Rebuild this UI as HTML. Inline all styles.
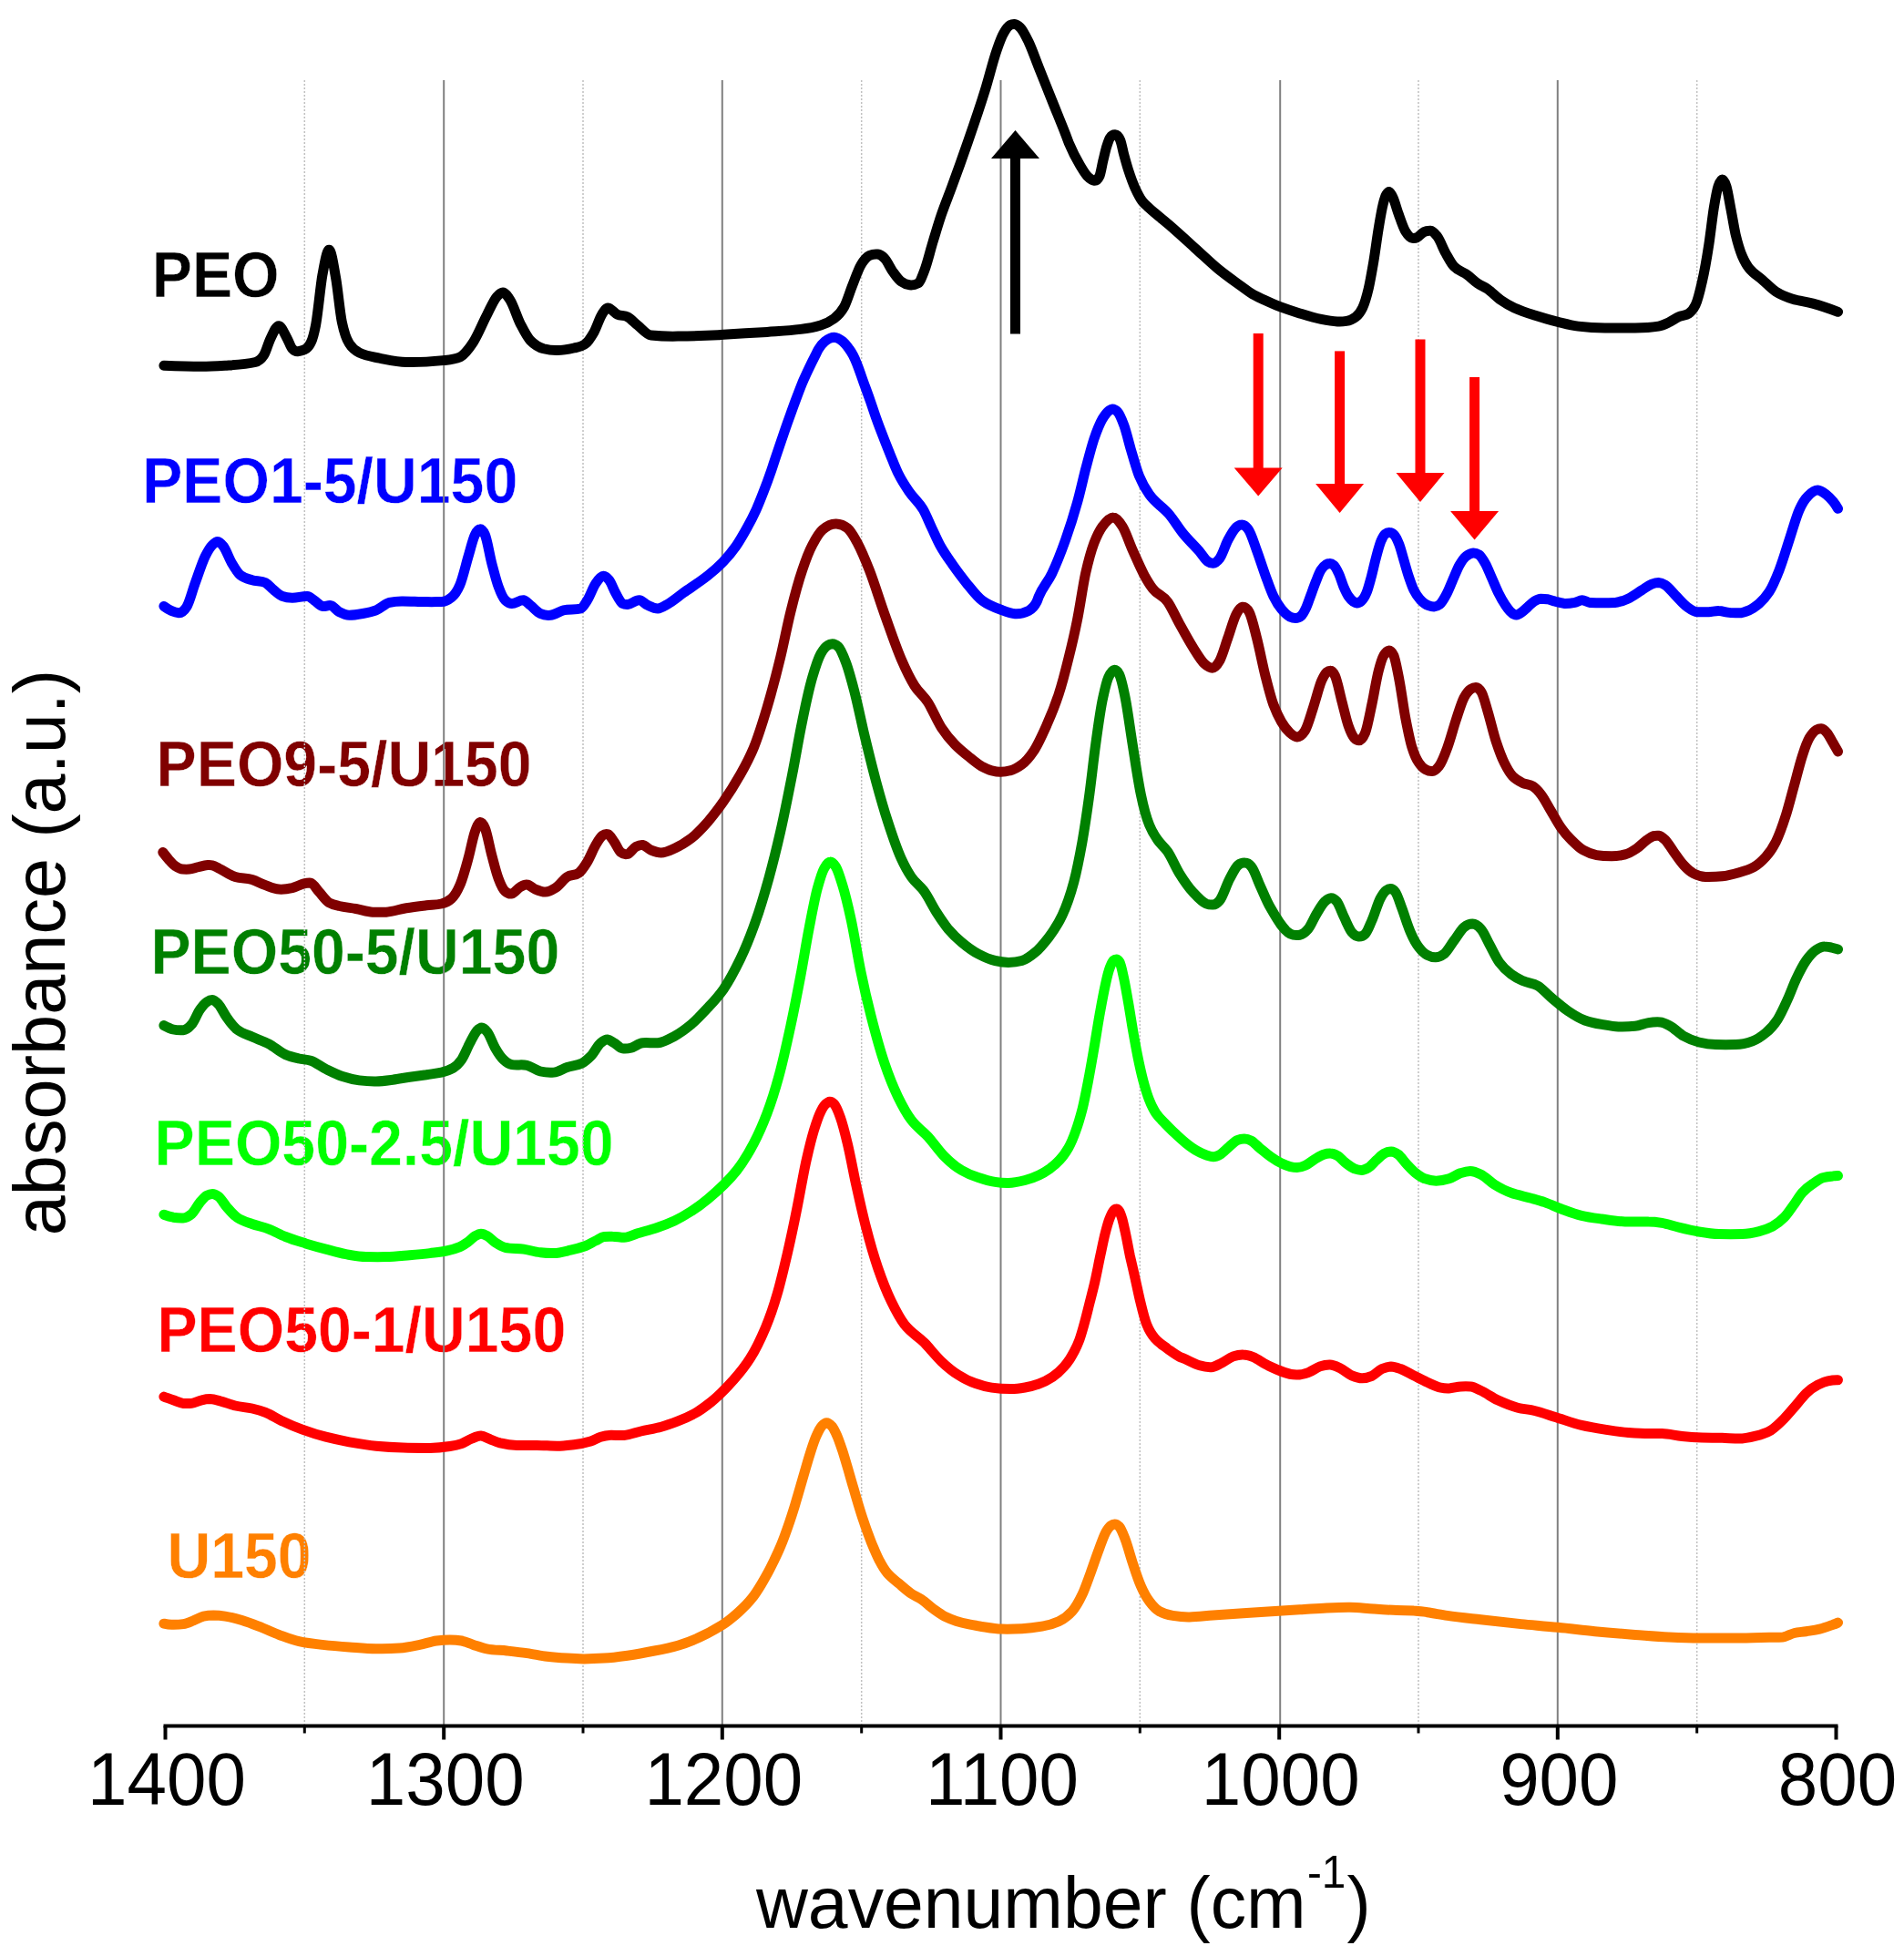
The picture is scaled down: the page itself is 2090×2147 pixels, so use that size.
<!DOCTYPE html>
<html><head><meta charset="utf-8"><title>FTIR spectra</title>
<style>html,body{margin:0;padding:0;background:#fff}svg{display:block}</style></head>
<body>
<svg width="2090" height="2147" viewBox="0 0 2090 2147">
<rect width="2090" height="2147" fill="#fff"/>
<g id="labels"><text transform="translate(166.8,325.9) scale(0.951,1)" font-size="69.6" font-weight="bold" fill="#000000" stroke="#fff" stroke-width="0.4" font-family="'Liberation Sans', sans-serif">PEO</text><text transform="translate(156.2,552.3) scale(0.951,1)" font-size="69.6" font-weight="bold" fill="#0000ff" stroke="#fff" stroke-width="0.4" font-family="'Liberation Sans', sans-serif">PEO1-5/U150</text><text transform="translate(171.6,863.3) scale(0.951,1)" font-size="69.6" font-weight="bold" fill="#800000" stroke="#fff" stroke-width="0.4" font-family="'Liberation Sans', sans-serif">PEO9-5/U150</text><text transform="translate(165.4,1069.3) scale(0.951,1)" font-size="69.6" font-weight="bold" fill="#008000" stroke="#fff" stroke-width="0.4" font-family="'Liberation Sans', sans-serif">PEO50-5/U150</text><text transform="translate(169.6,1278.8) scale(0.951,1)" font-size="69.6" font-weight="bold" fill="#00ff00" stroke="#fff" stroke-width="0.4" font-family="'Liberation Sans', sans-serif">PEO50-2.5/U150</text><text transform="translate(172.4,1484.0) scale(0.951,1)" font-size="69.6" font-weight="bold" fill="#ff0000" stroke="#fff" stroke-width="0.4" font-family="'Liberation Sans', sans-serif">PEO50-1/U150</text><text transform="translate(183.4,1732.3) scale(0.951,1)" font-size="69.6" font-weight="bold" fill="#ff8000" stroke="#fff" stroke-width="0.4" font-family="'Liberation Sans', sans-serif">U150</text></g>
<g id="grid"><line x1="487.2" y1="88" x2="487.2" y2="1894.5" stroke="#808080" stroke-width="2"/><line x1="792.8" y1="88" x2="792.8" y2="1894.5" stroke="#808080" stroke-width="2"/><line x1="1098.5" y1="88" x2="1098.5" y2="1894.5" stroke="#808080" stroke-width="2"/><line x1="1405.2" y1="88" x2="1405.2" y2="1894.5" stroke="#808080" stroke-width="2"/><line x1="1709.8" y1="88" x2="1709.8" y2="1894.5" stroke="#808080" stroke-width="2"/><line x1="334.3" y1="88" x2="334.3" y2="1894.5" stroke="#c0c0c0" stroke-width="1.5" stroke-dasharray="2 2"/><line x1="640.0" y1="88" x2="640.0" y2="1894.5" stroke="#c0c0c0" stroke-width="1.5" stroke-dasharray="2 2"/><line x1="945.7" y1="88" x2="945.7" y2="1894.5" stroke="#c0c0c0" stroke-width="1.5" stroke-dasharray="2 2"/><line x1="1251.3" y1="88" x2="1251.3" y2="1894.5" stroke="#c0c0c0" stroke-width="1.5" stroke-dasharray="2 2"/><line x1="1557.0" y1="88" x2="1557.0" y2="1894.5" stroke="#c0c0c0" stroke-width="1.5" stroke-dasharray="2 2"/><line x1="1862.7" y1="88" x2="1862.7" y2="1894.5" stroke="#c0c0c0" stroke-width="1.5" stroke-dasharray="2 2"/></g>
<g id="curves"><path d="M179.9 1782.2C182.7 1782.8 185.5 1783.3 188.3 1783.3C192.6 1783.4 196.9 1783.3 201.2 1782.6C204.9 1782 208.6 1780.3 212.3 1778.9C215.9 1777.5 219.6 1775 223.3 1774.1C227 1773.3 230.7 1773 234.3 1773C238.6 1773.1 242.9 1773.5 247.2 1774.1C253.3 1775 259.5 1776.7 265.6 1778.5C271.7 1780.4 277.9 1782.8 284 1785.2C291.4 1788 298.7 1791.6 306.1 1794.4C313.5 1797.1 320.8 1800.1 328.2 1801.7C336.8 1803.6 345.4 1804.5 353.9 1805.4C363.8 1806.5 373.6 1807.3 383.4 1808C393.2 1808.7 403 1809.7 412.8 1809.8C421.4 1810 430 1809.8 438.6 1809.1C446 1808.5 453.3 1806.9 460.7 1805.4C466.8 1804.2 472.9 1801.9 479.1 1801C484 1800.3 488.9 1799.9 493.8 1799.9C498.1 1799.9 502.4 1800.2 506.7 1801C511 1801.8 515.3 1804 519.6 1805.4C524.5 1807 529.4 1808.9 534.3 1809.8C541.6 1811.2 549 1811.2 556.4 1812C563.7 1812.8 571.1 1813.6 578.4 1814.6C585.8 1815.6 593.2 1817.4 600.5 1818.3C607.9 1819.2 615.2 1819.7 622.6 1820.1C628.7 1820.5 634.9 1820.8 641 1820.9C648.4 1820.9 655.7 1820.6 663.1 1820.1C671.7 1819.6 680.3 1818.4 688.9 1817.2C698.7 1815.8 708.5 1814 718.3 1812C726.9 1810.4 735.5 1808.7 744.1 1806.2C760.3 1801.4 776.5 1794 792.8 1783.7C798.7 1780 804.5 1775.1 810.4 1769.8C815.5 1765.3 820.5 1760.6 825.5 1754.2C828.9 1750 832.3 1744.6 835.6 1739.1C838 1735.2 840.3 1731.1 842.7 1726.7C845 1722.5 847.2 1718 849.5 1713.3C851.4 1709.3 853.4 1705.2 855.3 1700.8C857.2 1696.3 859.2 1691.5 861.1 1686.3C863 1681.2 865 1675.7 866.9 1670C868.8 1664.2 870.8 1658.1 872.7 1651.8C874.6 1645.5 876.6 1638.8 878.5 1632.1C880.4 1625.5 882.4 1618.5 884.3 1612C886.2 1605.4 888.2 1598.7 890.1 1592.8C892 1586.9 893.9 1581.1 895.9 1576.6C897.8 1572.2 899.7 1567.9 901.7 1565.7C903.6 1563.5 905.5 1561.8 907.5 1561.8C909.4 1561.8 911.3 1563.5 913.3 1565.7C915.2 1567.9 917.1 1572.2 919.1 1576.6C921 1581.1 922.9 1586.9 924.9 1592.8C926.8 1598.7 928.7 1605.4 930.7 1612C932.6 1618.5 934.5 1625.5 936.5 1632.1C938.4 1638.8 940.3 1645.5 942.3 1651.8C944.2 1658.1 946.1 1664.2 948.1 1670C950 1675.7 951.9 1681.2 953.9 1686.3C955.8 1691.5 957.7 1696.3 959.7 1700.8C961.6 1705.2 963.5 1709.7 965.5 1713.3C968.2 1718.5 971 1723.1 973.8 1726.5C978.2 1731.7 982.5 1734.6 986.9 1738.3C991.1 1741.9 995.3 1745.7 999.5 1748.7C1003.7 1751.6 1007.9 1753.1 1012.1 1756C1016.3 1758.9 1020.5 1763 1024.7 1766.1C1028.9 1769.1 1033.1 1772.2 1037.3 1774.4C1041.5 1776.5 1045.7 1778.1 1049.9 1779.4C1054.1 1780.7 1058.3 1781.8 1062.5 1782.7C1066.7 1783.6 1070.9 1784.3 1075.1 1785C1083.3 1786.2 1091.5 1787.9 1099.6 1788.1C1107 1788.3 1114.4 1788.1 1121.7 1787.7C1129.1 1787.4 1136.4 1786.5 1143.8 1785.2C1149.9 1784.1 1156.1 1782.5 1162.2 1779.7C1167.1 1777.4 1172 1774.1 1176.9 1768.6C1180.6 1764.5 1184.3 1758 1188 1750.2C1191 1743.7 1194.1 1734.6 1197.2 1726.3C1200.2 1718 1203.3 1708.6 1206.4 1700.5C1208.8 1694 1211.3 1686.5 1213.7 1682.1C1215.6 1678.8 1217.4 1676.1 1219.2 1674.8C1220.7 1673.7 1222.2 1673 1223.7 1672.9C1225.3 1672.9 1226.8 1673.8 1228.4 1675.5C1230.7 1677.8 1232.9 1683.7 1235.1 1689.5C1237.8 1696.5 1240.5 1707.2 1243.2 1715.2C1246.2 1724.4 1249.3 1734.1 1252.4 1741C1255.4 1747.9 1258.5 1753.5 1261.6 1757.6C1265.2 1762.5 1268.9 1766.5 1272.6 1768.6C1277.5 1771.4 1282.4 1772.6 1287.3 1773.4C1293.5 1774.4 1299.6 1775 1305.7 1774.9C1314.3 1774.7 1322.9 1773.6 1331.5 1773C1343.8 1772.2 1356 1771.3 1368.3 1770.5C1387.8 1769.2 1407.3 1768 1426.8 1766.8C1436.6 1766.2 1446.4 1765.4 1456.2 1764.9C1464.8 1764.5 1473.4 1764.1 1482 1764.2C1490.6 1764.3 1499.2 1765.5 1507.8 1766C1516.4 1766.6 1524.9 1767.2 1533.5 1767.5C1539.7 1767.8 1545.8 1767.5 1551.9 1767.9C1556.8 1768.1 1561.7 1769 1566.7 1769.7C1574 1770.8 1581.4 1772.3 1588.7 1773.4C1601 1775.2 1613.3 1776.4 1625.5 1777.8C1640.3 1779.5 1655 1781.1 1669.7 1782.6C1683.2 1783.9 1696.7 1784.9 1710.2 1786.3C1723.7 1787.6 1737.2 1789.4 1750.7 1790.7C1765.4 1792.1 1780.1 1793.3 1794.8 1794.4C1807.1 1795.3 1819.4 1796.4 1831.6 1797C1842.7 1797.5 1853.7 1798 1864.8 1798.1C1878.3 1798.1 1891.8 1798.1 1905.2 1798.1C1917.5 1798 1929.8 1797.6 1942.1 1797.3C1947 1797.2 1951.9 1797.2 1956.8 1797C1961.1 1796.7 1965.4 1793.5 1969.7 1792.5C1973.9 1791.6 1978.2 1791.4 1982.5 1790.7C1987.4 1789.9 1992.3 1789.3 1997.3 1788.1C2002.2 1787 2007.1 1785.1 2012 1783.3C2013.8 1782.7 2015.7 1781.9 2017.5 1781.1" fill="none" stroke="#ff8000" stroke-width="11" stroke-linecap="round" stroke-linejoin="round"/><path d="M179.9 1533.1C183.3 1534.3 186.7 1535.6 190.2 1536.8C193.8 1538 197.5 1540.1 201.2 1540.4C204.3 1540.7 207.3 1540.7 210.4 1540.4C214.1 1540.1 217.8 1537.5 221.5 1536.8C224.5 1536.1 227.6 1535.6 230.7 1535.6C234.3 1535.7 238 1536.9 241.7 1537.9C247.2 1539.2 252.7 1541.7 258.3 1543C264.4 1544.5 270.5 1544.6 276.7 1546C281.6 1547.1 286.5 1548.4 291.4 1550.4C297.5 1552.8 303.6 1557.1 309.8 1559.9C317.1 1563.4 324.5 1566.5 331.9 1569.1C340.4 1572.2 349 1575 357.6 1577.2C366.2 1579.4 374.8 1581.2 383.4 1582.8C393.2 1584.5 403 1586.2 412.8 1587.2C422.6 1588.1 432.5 1588.7 442.3 1589C452.1 1589.4 461.9 1589.4 471.7 1589.4C479.1 1589.3 486.4 1588.6 493.8 1587.5C498.1 1586.9 502.4 1586.1 506.7 1584.6C510.4 1583.3 514 1580.5 517.7 1579.1C521.2 1577.7 524.6 1575.9 528 1576.1C531.3 1576.3 534.6 1578.6 538 1579.8C541.6 1581.2 545.3 1582.9 549 1583.9C555.1 1585.4 561.3 1586.4 567.4 1586.4C574.8 1586.5 582.1 1586.4 589.5 1586.4C596.8 1586.5 604.2 1587.1 611.6 1587.2C617.7 1587.2 623.8 1586.4 630 1585.7C636.1 1585 642.2 1583.9 648.4 1582C652.1 1580.9 655.7 1578.3 659.4 1577.2C662.5 1576.3 665.5 1575.5 668.6 1575.4C674.1 1575.2 679.7 1575.8 685.2 1575.4C691.3 1575 697.4 1572.4 703.6 1571C710.9 1569.3 718.3 1568.2 725.7 1566.2C731.8 1564.5 737.9 1562.3 744.1 1559.9C750.2 1557.5 756.3 1554.9 762.5 1551.5C768.6 1548 774.7 1543.6 780.9 1538.6C789 1532 797.1 1523.8 805.2 1514.7C811.3 1507.8 817.5 1500.5 823.6 1490.7C829.1 1482 834.6 1470.8 840.2 1457.6C844.5 1447.4 848.8 1435.4 853 1420.8C856.7 1408.3 860.4 1392.5 864.1 1376.7C867.8 1360.8 871.5 1343.3 875.1 1325.1C878.2 1310 881.3 1291.3 884.3 1277.3C887.4 1263.3 890.5 1250.5 893.5 1240.5C896 1232.5 898.4 1225.1 900.9 1220.2C902.7 1216.6 904.6 1213.5 906.4 1211.8C907.9 1210.4 909.4 1209.3 910.8 1209.2C912.4 1209.1 914 1210.1 915.6 1211.8C917.8 1214.1 920 1219.8 922.2 1225.8C924.9 1233.1 927.6 1243.9 930.3 1255.2C933.4 1268 936.5 1285.4 939.5 1299.4C943.2 1316.2 946.9 1333 950.6 1347.2C954.9 1363.8 959.2 1378.8 963.5 1391.4C968.4 1405.7 973.3 1418 978.2 1428.2C983.1 1438.3 988 1447.6 992.9 1453.9C1000.3 1463.4 1007.6 1466.6 1015 1474.2C1021.1 1480.5 1027.3 1488.7 1033.4 1494.4C1039.5 1500.2 1045.7 1505.3 1051.8 1509.1C1057.9 1513 1064.1 1516.2 1070.2 1518.3C1076.3 1520.5 1082.5 1522.3 1088.6 1523.1C1096 1524.2 1103.3 1524.7 1110.7 1524.6C1115.5 1524.6 1120.3 1523.8 1125.1 1523C1130.2 1522.2 1135.2 1520.8 1140.3 1519C1145.3 1517.2 1150.3 1514.8 1155.4 1511.4C1159.6 1508.6 1163.8 1504.8 1168 1500.1C1170.1 1497.7 1172.2 1494.9 1174.3 1491.8C1176 1489.2 1177.6 1486.4 1179.3 1483.2C1181.2 1479.6 1183 1475.6 1184.9 1470.6C1186.9 1465.1 1188.9 1457.8 1190.9 1450.4C1192.5 1444.6 1194.1 1437.9 1195.7 1431.5C1197.8 1423.2 1199.9 1415.6 1202 1406.3C1203.9 1397.8 1205.9 1387.2 1207.8 1378.2C1209.7 1369.5 1211.5 1360.1 1213.4 1352.9C1214.9 1347.1 1216.4 1341.7 1217.9 1337.8C1219.3 1334.1 1220.8 1330.6 1222.2 1329C1223.2 1327.8 1224.2 1327 1225.2 1327C1226.3 1326.9 1227.4 1327.7 1228.5 1329.2C1229.6 1330.7 1230.7 1334.2 1231.8 1337.8C1232.9 1341.8 1234.1 1347.5 1235.3 1352.9C1237 1360.7 1238.7 1370.3 1240.3 1378.2C1242.3 1387.2 1244.2 1394.8 1246.1 1403.4C1248 1411.6 1249.8 1421 1251.7 1428.6C1254 1438.2 1256.4 1447.9 1258.7 1453.8C1261.7 1461.2 1264.6 1465.5 1267.6 1468.9C1272.2 1474.3 1276.8 1476.9 1281.4 1480.3C1286.5 1483.9 1291.5 1487.9 1296.6 1490.1C1297.2 1490.3 1297.8 1490.5 1298.4 1490.7C1304.5 1493.1 1310.6 1497.1 1316.8 1498.8C1321.1 1500.1 1325.4 1500.9 1329.7 1500.7C1333.3 1500.5 1337 1498 1340.7 1496.3C1345 1494.2 1349.3 1490.4 1353.6 1488.9C1357.3 1487.7 1360.9 1487 1364.6 1487.1C1368.3 1487.1 1372 1488.3 1375.7 1489.6C1380.6 1491.5 1385.5 1495.8 1390.4 1498.1C1401.3 1503.3 1412.2 1508.8 1423.1 1509.1C1427.4 1509.3 1431.7 1508.1 1436 1506.6C1440.3 1505.1 1444.6 1501.4 1448.9 1499.9C1452.6 1498.7 1456.2 1498 1459.9 1498.1C1463.6 1498.2 1467.3 1500.1 1471 1501.8C1475.3 1503.8 1479.6 1508.1 1483.8 1509.9C1487.5 1511.4 1491.2 1512.8 1494.9 1512.8C1498.6 1512.9 1502.3 1511.8 1505.9 1510.3C1509.6 1508.7 1513.3 1504.1 1517 1502.5C1520.3 1501.1 1523.6 1499.9 1526.9 1499.9C1530.3 1500 1533.8 1501.3 1537.2 1502.5C1542.1 1504.3 1547 1507.4 1551.9 1509.9C1556.8 1512.3 1561.7 1515 1566.7 1517.2C1571.6 1519.5 1576.5 1522.2 1581.4 1523.1C1584.4 1523.7 1587.5 1524 1590.6 1523.9C1594.9 1523.7 1599.2 1522.2 1603.5 1522C1607.1 1521.8 1610.8 1521.8 1614.5 1522C1618.2 1522.2 1621.9 1524.7 1625.5 1526.4C1631.7 1529.3 1637.8 1533.9 1643.9 1536.8C1651.3 1540.2 1658.7 1543.3 1666 1545.2C1672.2 1546.8 1678.3 1547 1684.4 1548.5C1691.8 1550.3 1699.1 1552.9 1706.5 1555.2C1716.3 1558.2 1726.1 1562 1736 1564.4C1744.5 1566.4 1753.1 1567.8 1761.7 1569.1C1770.3 1570.4 1778.9 1571.8 1787.5 1572.5C1794.8 1573 1802.2 1573.5 1809.6 1573.6C1814.5 1573.6 1819.4 1573.5 1824.3 1573.6C1831.6 1573.7 1839 1575.8 1846.4 1576.5C1853.7 1577.2 1861.1 1577.7 1868.4 1578C1875.8 1578.2 1883.2 1578.1 1890.5 1578.3C1896.7 1578.5 1902.8 1579 1908.9 1579.1C1915.1 1579.1 1921.2 1577.6 1927.3 1576.1C1932.8 1574.8 1938.4 1573.1 1943.9 1569.9C1948.8 1567 1953.7 1562 1958.6 1557C1962.9 1552.6 1967.2 1547.2 1971.5 1542.3C1975.2 1538 1978.9 1532.8 1982.5 1529.4C1986.8 1525.4 1991.1 1522.4 1995.4 1520.2C1999.1 1518.3 2002.8 1516.6 2006.5 1515.8C2010.1 1515 2013.8 1514.6 2017.5 1514.7" fill="none" stroke="#ff0000" stroke-width="11" stroke-linecap="round" stroke-linejoin="round"/><path d="M179.9 1333.2C183.3 1334.4 186.7 1335.5 190.2 1336.2C193.8 1336.8 197.5 1337 201.2 1336.9C204.3 1336.9 207.3 1335.1 210.4 1332.5C213.5 1329.9 216.5 1323.2 219.6 1319.6C222.1 1316.7 224.5 1313.7 227 1312.3C229.1 1311.1 231.1 1310.4 233.2 1310.4C235.4 1310.4 237.6 1311.7 239.9 1313.4C242.9 1315.7 246 1321.6 249.1 1325.1C252.7 1329.3 256.4 1333.7 260.1 1336.2C265.6 1340 271.1 1341.5 276.7 1343.5C282.8 1345.7 288.9 1346.7 295.1 1349.1C301.2 1351.4 307.3 1355.1 313.5 1357.5C320.8 1360.4 328.2 1362.6 335.5 1364.9C342.9 1367.1 350.3 1369.2 357.6 1371.1C365 1373.1 372.3 1375.3 379.7 1376.7C387.1 1378 394.4 1379.5 401.8 1379.6C409.1 1379.7 416.5 1379.8 423.9 1379.6C432.5 1379.4 441 1378.5 449.6 1377.8C457 1377.1 464.4 1376.4 471.7 1375.6C477.8 1374.8 484 1374.2 490.1 1373C495 1372 499.9 1370.7 504.8 1368.6C507.9 1367.2 511 1365.2 514 1363C516.5 1361.3 518.9 1358.3 521.4 1356.8C523.6 1355.5 525.8 1354.2 528 1354.2C530.4 1354.2 532.7 1355.4 535 1356.8C537.8 1358.4 540.7 1361.9 543.5 1363.8C547.2 1366.2 550.8 1368.5 554.5 1369.3C561.3 1370.8 568 1370.1 574.8 1371.1C580.9 1372.1 587 1374.1 593.2 1374.8C598.1 1375.4 603 1375.7 607.9 1375.6C614 1375.4 620.2 1373.6 626.3 1372.2C631.8 1371 637.3 1369.6 642.8 1367.5C646.5 1366 650.2 1363.7 653.9 1361.9C657 1360.4 660 1357.9 663.1 1357.5C666.2 1357.1 669.2 1357.1 672.3 1357.2C676.6 1357.2 680.9 1358.3 685.2 1358.3C690.1 1358.2 695 1355.3 699.9 1353.8C707.3 1351.6 714.6 1349.7 722 1347.2C728.1 1345.1 734.2 1342.7 740.4 1339.9C746.5 1337 752.6 1333.5 758.8 1329.5C764.9 1325.6 771 1321 777.2 1315.9C787.7 1307.2 798.3 1298 808.9 1284.5C815 1276.7 821.2 1266.7 827.3 1255.1C832.2 1245.8 837.1 1234.9 842 1222C846.3 1210.6 850.6 1197.2 854.9 1181.5C859.2 1165.8 863.5 1146.2 867.8 1126.3C871.5 1109.2 875.1 1090.6 878.8 1071.1C881.9 1054.8 884.9 1035.5 888 1019.6C891.1 1003.6 894.1 986.9 897.2 975.4C899.7 966.2 902.1 957.8 904.6 953.3C906.8 949.3 909 946 911.2 946C913.3 945.9 915.4 948.1 917.5 951.5C919.9 955.4 922.4 963.7 924.8 971.7C927.9 981.7 930.9 994.4 934 1008.5C937.7 1025.4 941.4 1049.7 945.1 1067.4C948.7 1085.1 952.4 1100.9 956.1 1115.2C961 1134.4 965.9 1152.4 970.8 1166.8C975.7 1181.2 980.6 1193.4 985.5 1203.6C990.4 1213.7 995.4 1222.8 1000.3 1229.3C1006.4 1237.5 1012.5 1240.9 1018.7 1247.7C1024.8 1254.5 1030.9 1263.8 1037.1 1269.8C1043.2 1275.9 1049.3 1281 1055.5 1284.5C1061.6 1288.1 1067.7 1290.6 1073.9 1292.6C1080 1294.7 1086.1 1296.5 1092.3 1297.4C1097.2 1298.2 1102.1 1298.6 1107 1298.5C1113 1298.4 1119.1 1297 1125.1 1295.5C1130.2 1294.2 1135.2 1292.3 1140.3 1289.9C1144.5 1288 1148.7 1285.4 1152.9 1282.4C1156.2 1279.9 1159.6 1277.1 1162.9 1273.5C1166.3 1269.9 1169.7 1265.7 1173 1259.7C1175.5 1255.1 1178.1 1249 1180.6 1242C1183.1 1235.1 1185.6 1226.9 1188.2 1216.8C1190.3 1208.4 1192.4 1197.5 1194.5 1186.6C1196.6 1175.7 1198.7 1163.4 1200.8 1151.3C1202.9 1139.1 1205 1125.2 1207.1 1113.4C1209.2 1101.7 1211.3 1089.9 1213.4 1080.7C1215 1073.3 1216.7 1066.2 1218.4 1061.8C1219.7 1058.4 1220.9 1055.4 1222.2 1054.2C1223.3 1053.2 1224.4 1052.9 1225.5 1052.9C1226.6 1053 1227.8 1053.9 1229 1056C1230.5 1058.6 1232 1066.2 1233.5 1073.1C1235.2 1080.8 1236.9 1091.2 1238.6 1100.8C1240.3 1110.5 1241.9 1121.4 1243.6 1131.1C1245.3 1140.8 1247 1150.5 1248.7 1158.8C1250.8 1169.2 1252.9 1178.7 1255 1186.6C1257.1 1194.4 1259.2 1201.4 1261.3 1206.7C1263.8 1213.1 1266.3 1218.1 1268.8 1221.8C1272.2 1226.8 1275.5 1229.7 1278.9 1233.2C1282.3 1236.7 1285.6 1240.1 1289 1243.3C1293.2 1247.3 1297.4 1251.3 1301.6 1254.6C1305.8 1258 1310 1261.1 1314.2 1263.4C1317.6 1265.3 1320.9 1266.9 1324.3 1268C1326.8 1268.8 1329.3 1269.7 1331.8 1269.7C1334.4 1269.8 1336.9 1268.6 1339.4 1267.2C1342.8 1265.4 1346.1 1261.2 1349.5 1258.4C1352.4 1256 1355.4 1252.9 1358.3 1251.6C1360.8 1250.5 1363.4 1250.1 1365.9 1250.1C1368.4 1250.1 1370.9 1250.8 1373.4 1252.1C1376.4 1253.6 1379.3 1257.2 1382.3 1259.7C1386.5 1263.1 1390.7 1266.8 1394.9 1269.7C1399.1 1272.7 1403.3 1275.4 1407.5 1277.3C1410.4 1278.7 1413.4 1279.9 1416.3 1280.6C1418.8 1281.2 1421.3 1281.6 1423.9 1281.6C1426.8 1281.6 1429.7 1280.6 1432.7 1279.3C1436.1 1277.9 1439.4 1274.8 1442.8 1272.8C1446.1 1270.8 1449.5 1268.4 1452.9 1267.2C1455.4 1266.4 1457.9 1265.9 1460.4 1266C1462.9 1266 1465.5 1267.1 1468 1268.5C1471.3 1270.3 1474.7 1274.8 1478.1 1277.3C1481 1279.5 1483.9 1281.7 1486.9 1282.9C1489.4 1283.8 1491.9 1284.4 1494.5 1284.4C1497 1284.4 1499.5 1283.3 1502 1281.8C1505 1280.1 1507.9 1276.2 1510.8 1273.5C1513.8 1270.9 1516.7 1267.5 1519.7 1266C1522.2 1264.6 1524.7 1263.9 1527.2 1263.9C1529.7 1264 1532.3 1265.4 1534.8 1267.2C1537.7 1269.4 1540.7 1274.2 1543.6 1277.3C1547 1280.9 1550.3 1284.7 1553.7 1287.4C1557.1 1290.1 1560.4 1292.5 1563.8 1293.7C1568 1295.3 1572.2 1296.2 1576.4 1296.2C1581.1 1296.2 1585.8 1295.3 1590.6 1293.8C1594.9 1292.5 1599.2 1289 1603.5 1287.6C1606.9 1286.4 1610.3 1285.4 1613.8 1285.4C1617.7 1285.4 1621.6 1287.1 1625.5 1289.1C1630.4 1291.5 1635.4 1297.1 1640.3 1300.1C1646.4 1303.9 1652.5 1307.1 1658.7 1309.3C1666 1312 1673.4 1313.1 1680.7 1315.2C1685.7 1316.6 1690.6 1317.9 1695.5 1319.6C1701.6 1321.7 1707.7 1324.7 1713.9 1327C1721.2 1329.7 1728.6 1332.6 1736 1334.3C1743.3 1336.1 1750.7 1337 1758 1338C1766.6 1339.2 1775.2 1340.7 1783.8 1341C1792.4 1341.2 1801 1340.8 1809.6 1341C1814.5 1341 1819.4 1341.6 1824.3 1342.4C1830.4 1343.4 1836.5 1345.8 1842.7 1347.2C1850 1349 1857.4 1350.8 1864.8 1352C1872.1 1353.2 1879.5 1354.4 1886.8 1354.6C1895.4 1354.8 1904 1354.8 1912.6 1354.6C1918.7 1354.4 1924.9 1353.1 1931 1351.6C1935.9 1350.4 1940.8 1348.7 1945.7 1346.1C1950 1343.8 1954.3 1340.6 1958.6 1336.2C1962.3 1332.4 1966 1326.5 1969.7 1321.5C1972.7 1317.3 1975.8 1311.9 1978.9 1308.6C1982.5 1304.5 1986.2 1301.9 1989.9 1299.4C1993.6 1296.8 1997.3 1293.9 2000.9 1292.7C2004.6 1291.6 2008.3 1291.2 2012 1290.9C2013.8 1290.7 2015.7 1290.6 2017.5 1290.5" fill="none" stroke="#00ff00" stroke-width="11" stroke-linecap="round" stroke-linejoin="round"/><path d="M179.9 1125.6C183.3 1127.4 186.7 1129.2 190.2 1130C193.8 1130.8 197.5 1130.9 201.2 1130.7C204.3 1130.6 207.3 1128 210.4 1124.4C213.5 1120.9 216.5 1112.1 219.6 1107.9C222.1 1104.5 224.5 1101.4 227 1099.8C229.1 1098.4 231.1 1097.5 233.2 1097.6C235.4 1097.7 237.6 1100 239.9 1102.4C242.9 1105.7 246 1112.9 249.1 1117.1C252.7 1122.2 256.4 1127.1 260.1 1130C265.6 1134.2 271.1 1135.6 276.7 1138.1C282.8 1140.8 288.9 1142.6 295.1 1145.8C301.2 1149 307.3 1154.9 313.5 1157.6C318.4 1159.7 323.3 1160.8 328.2 1162C332.5 1163 336.8 1162.8 341.1 1164.2C346.6 1166 352.1 1170.7 357.6 1173.4C363.8 1176.4 369.9 1179.5 376 1181.5C382.2 1183.5 388.3 1185.1 394.4 1185.9C400.6 1186.7 406.7 1187.1 412.8 1187C419 1186.9 425.1 1186 431.2 1185.2C437.4 1184.4 443.5 1183.1 449.6 1182.2C455.8 1181.3 461.9 1180.5 468 1179.7C473.6 1178.8 479.1 1178.3 484.6 1177.1C488.9 1176.1 493.2 1174.9 497.5 1172.3C500.5 1170.4 503.6 1167.5 506.7 1163.1C509.7 1158.7 512.8 1150.4 515.9 1144.7C518.3 1140.1 520.8 1134.6 523.2 1131.8C525.1 1129.7 526.9 1128.1 528.8 1128.1C530.8 1128.1 532.9 1130.2 535 1132.9C537.8 1136.5 540.7 1145.4 543.5 1150.2C546.5 1155.4 549.6 1160.3 552.7 1163.1C555.7 1165.9 558.8 1168.1 561.9 1168.6C567.4 1169.5 572.9 1168.2 578.4 1169.3C583.4 1170.4 588.3 1174.8 593.2 1176C598.1 1177.1 603 1177.6 607.9 1177.1C612.8 1176.6 617.7 1173.2 622.6 1171.6C628.1 1169.7 633.6 1169.6 639.2 1166.8C642.2 1165.2 645.3 1162.5 648.4 1159.4C652.1 1155.7 655.7 1147.7 659.4 1144.7C661.9 1142.7 664.3 1140.8 666.8 1141C669.2 1141.2 671.7 1143.3 674.1 1144.7C677.2 1146.5 680.3 1150.6 683.3 1150.9C686.4 1151.3 689.5 1151 692.5 1150.2C696.8 1149.1 701.1 1145.1 705.4 1144.7C710.9 1144.1 716.5 1145.2 722 1144.7C728.1 1144.2 734.2 1140.6 740.4 1137.3C746.5 1134.1 752.6 1129.6 758.8 1124.4C764.9 1119.3 771 1112.7 777.2 1106C782.8 1099.9 788.5 1093.9 794.2 1085.8C800.3 1077 806.4 1065.5 812.6 1052.7C818.1 1041.2 823.6 1027.7 829.1 1012.2C834 998.4 838.9 982 843.8 964.4C848.1 948.9 852.4 931.7 856.7 912.8C861 893.9 865.3 872.2 869.6 850.3C873.3 831.5 877 809.1 880.7 791.4C884.3 773.6 888 756.2 891.7 743.5C894.8 733 897.8 723.3 900.9 717.8C903.3 713.4 905.8 710.1 908.3 708.6C910.1 707.4 911.9 706.8 913.8 706.7C915.9 706.7 917.9 707.7 920 709.7C922.9 712.3 925.7 719.6 928.5 727C931.6 735 934.6 746.5 937.7 758.3C941.4 772.4 945.1 790.8 948.7 806.1C953 824 957.3 841.7 961.6 857.6C965.9 873.5 970.2 888.6 974.5 901.8C979.4 916.9 984.3 931.5 989.2 942.3C992.9 950.4 996.6 957.1 1000.3 962.5C1005.2 969.7 1010.1 972 1015 979.1C1019.3 985.3 1023.6 994.4 1027.9 1001.2C1032.2 1007.9 1036.5 1014.4 1040.7 1019.6C1045.7 1025.4 1050.6 1030.2 1055.5 1034.3C1061.6 1039.4 1067.7 1044 1073.9 1047.2C1080 1050.4 1086.1 1053.2 1092.3 1054.5C1097.2 1055.6 1102.1 1056.3 1107 1056.4C1111.9 1056.4 1116.8 1055.9 1121.7 1054.5C1126.6 1053.1 1131.5 1049.4 1136.4 1045.3C1141.3 1041.3 1146.2 1035.2 1151.2 1028.8C1156.1 1022.3 1161 1015.2 1165.9 1004.8C1170.2 995.8 1174.5 984.1 1178.8 968C1181.8 956.6 1184.9 941.1 1188 923.9C1190.4 910.1 1192.9 893.7 1195.3 876C1197.8 858.3 1200.2 834.9 1202.7 817.1C1205.1 799.4 1207.6 781.5 1210 769.3C1212.3 758.3 1214.5 748.4 1216.7 743.5C1218.8 738.9 1220.8 735.7 1222.9 735.4C1224.8 735.2 1226.6 736.4 1228.4 739.9C1230.7 744 1232.9 754.6 1235.1 765.6C1237.8 779.1 1240.5 800.4 1243.2 817.1C1246.2 836.1 1249.3 858 1252.4 872.3C1255.4 886.7 1258.5 897.9 1261.6 905.5C1264.6 913 1267.7 917.6 1270.8 922C1274.4 927.3 1278.1 929.4 1281.8 934.9C1286.1 941.3 1290.4 951.9 1294.7 958.8C1299.6 966.7 1304.5 973.7 1309.4 979.1C1314.3 984.4 1319.2 989.9 1324.1 992C1326.6 993 1329 993.2 1331.5 993.1C1333.9 993 1336.4 991.2 1338.9 988.3C1342.5 983.9 1346.2 971.2 1349.9 964.4C1353 958.7 1356 952.1 1359.1 949.6C1361.5 947.6 1364 947 1366.5 947.1C1368.9 947.1 1371.4 948.5 1373.8 951.5C1376.9 955.2 1380 965 1383 971.7C1386.7 979.8 1390.4 989.2 1394.1 995.6C1402.5 1010.5 1411 1024.7 1419.4 1026.2C1421.9 1026.6 1424.3 1026.6 1426.8 1026.2C1429.9 1025.7 1432.9 1023.2 1436 1019.6C1439.1 1015.9 1442.1 1008 1445.2 1003C1448.3 998 1451.3 992.2 1454.4 989.4C1456.6 987.3 1458.8 985.8 1461 985.7C1463.1 985.6 1465.2 986.9 1467.3 989.4C1470 992.6 1472.7 1001.2 1475.4 1006.7C1478.2 1012.4 1481 1019.9 1483.8 1023.2C1486.3 1026.1 1488.8 1027.8 1491.2 1028C1493.7 1028.2 1496.1 1027.6 1498.6 1025.1C1501 1022.6 1503.5 1015.9 1505.9 1010.4C1509 1003.4 1512.1 992.2 1515.1 986.4C1517.3 982.3 1519.5 978.9 1521.8 977.2C1523.2 976.1 1524.7 975.4 1526.2 975.4C1528 975.4 1529.9 976.6 1531.7 979.1C1534.1 982.3 1536.6 991 1539.1 997.5C1542.1 1005.6 1545.2 1016.3 1548.3 1023.2C1551.3 1030.2 1554.4 1035.9 1557.5 1039.8C1560.5 1043.7 1563.6 1046.7 1566.7 1048.3C1569.7 1049.9 1572.8 1050.8 1575.9 1050.8C1578.9 1050.8 1582 1049.5 1585.1 1047.2C1588.7 1044.3 1592.4 1037.3 1596.1 1032.4C1599.8 1027.5 1603.5 1020.7 1607.1 1017.7C1610.2 1015.2 1613.3 1014 1616.3 1014C1619.4 1014.1 1622.5 1016.1 1625.5 1019.6C1628.6 1023 1631.7 1030.5 1634.7 1036.1C1638.4 1042.8 1642.1 1051.2 1645.8 1056.4C1650.1 1062.3 1654.4 1066.1 1658.7 1069.2C1663 1072.4 1667.3 1074.6 1671.5 1076.6C1677.1 1079.1 1682.6 1078.8 1688.1 1082.1C1693 1085 1697.9 1090.9 1702.8 1095C1709 1100.1 1715.1 1105.6 1721.2 1109.7C1727.4 1113.9 1733.5 1117.8 1739.6 1120C1745.8 1122.2 1751.9 1123.4 1758 1124.4C1764.2 1125.5 1770.3 1126.8 1776.4 1127C1782.6 1127.2 1788.7 1127 1794.8 1126.3C1799.7 1125.7 1804.7 1123.4 1809.6 1122.6C1813.9 1121.9 1818.1 1121.7 1822.4 1121.9C1826.1 1122 1829.8 1124.3 1833.5 1126.3C1838.4 1129 1843.3 1134.6 1848.2 1137.3C1853.7 1140.4 1859.2 1142.7 1864.8 1144C1870.9 1145.4 1877 1146.4 1883.2 1146.5C1890.5 1146.7 1897.9 1146.7 1905.2 1146.5C1911.4 1146.4 1917.5 1145 1923.6 1142.8C1928.6 1141.1 1933.5 1137.7 1938.4 1133.6C1942.7 1130.1 1947 1125.5 1951.3 1118.9C1954.9 1113.3 1958.6 1105 1962.3 1096.8C1965.4 1090.1 1968.4 1081.3 1971.5 1074.8C1975.2 1067 1978.9 1059.6 1982.5 1054.5C1986.2 1049.4 1989.9 1045.1 1993.6 1042.7C1996.6 1040.8 1999.7 1039 2002.8 1039.1C2005.8 1039.1 2008.9 1039.8 2012 1040.5C2013.8 1041 2015.7 1041.5 2017.5 1042" fill="none" stroke="#008000" stroke-width="11" stroke-linecap="round" stroke-linejoin="round"/><path d="M178.8 935.5C180.9 938.2 183 940.9 185.1 943.3C187.6 946.1 190.2 949.2 192.7 950.8C195.2 952.5 197.7 954 200.3 954.1C202.8 954.2 205.3 954.3 207.8 954.1C211.2 953.8 214.5 952.3 217.9 951.6C221.3 950.8 224.6 949.8 228 949.6C229.7 949.5 231.3 949.5 233 949.8C235.5 950.3 238.1 952.1 240.6 953.4C246.5 956.2 252.4 960.5 258.3 962.5C264.4 964.6 270.5 963.5 276.7 965.5C281.6 967 286.5 969.9 291.4 971.7C296.3 973.5 301.2 975.9 306.1 976.1C311 976.4 315.9 975.8 320.8 974.7C325.1 973.6 329.4 971 333.7 969.9C336.2 969.3 338.6 968.8 341.1 969.1C344.1 969.6 347.2 975.8 350.3 979.1C353.9 983 357.6 988.6 361.3 990.9C365 993.1 368.7 993.7 372.3 994.5C378.5 995.9 384.6 996.4 390.7 997.5C396.9 998.6 403 1000.8 409.1 1001.2C414.1 1001.4 419 1001.4 423.9 1001.2C431.2 1000.7 438.6 997.9 446 996.7C453.3 995.6 460.7 994.7 468 993.8C473.6 993.1 479.1 993.3 484.6 992C488.3 991.1 492 989.7 495.6 986.4C498.7 983.7 501.8 978.7 504.8 971.7C507.9 964.8 511 953.3 514 942.3C516.5 933.4 518.9 919.7 521.4 912.8C523.2 907.7 525.1 902.9 526.9 902.5C528.8 902.2 530.6 904.7 532.4 909.1C534.9 915.1 537.3 929.4 539.8 938.6C542.3 947.8 544.7 958 547.2 964.4C549.6 970.8 552.1 976.2 554.5 978.3C557 980.5 559.4 981.5 561.9 980.9C564.9 980.2 568 975.2 571.1 973.6C573.5 972.2 576 970.7 578.4 971C581.5 971.3 584.6 974.9 587.6 976.1C591.3 977.6 595 979 598.7 979.1C602.4 979.1 606 977 609.7 974.7C614 972 618.3 965.4 622.6 962.5C626.9 959.6 631.2 961.5 635.5 958.1C638.6 955.7 641.6 951 644.7 946C647.8 940.9 650.8 932.7 653.9 927.5C656.3 923.5 658.8 919.1 661.3 917.2C663.3 915.7 665.4 915.2 667.5 915.8C669.7 916.4 671.9 920.8 674.1 923.9C676.6 927.3 679 933.7 681.5 935.6C683.9 937.6 686.4 938.1 688.9 937.5C691.9 936.7 695 931 698.1 929.4C700.5 928.1 703 927.2 705.4 927.5C708.5 928 711.5 931.8 714.6 933.1C718.3 934.6 722 936.1 725.7 936C730.6 935.9 735.5 933.4 740.4 931.2C746.5 928.6 752.6 924.9 758.8 920.2C764.9 915.5 771 908.8 777.2 901.8C782.8 895.3 788.5 887.8 794.2 879.7C800.3 870.9 806.4 861.2 812.6 850.3C817.5 841.5 822.4 832.7 827.3 820.8C832.2 808.9 837.1 793.1 842 776.7C846.9 760.2 851.8 741.7 856.7 721.5C860.4 706.2 864.1 686.6 867.8 671.8C872.1 654.4 876.4 638.4 880.7 625.8C884.3 614.9 888 605.2 891.7 598.2C895.4 591.1 899.1 584.8 902.7 581.6C907.6 577.3 912.5 575.1 917.5 575C921.7 574.9 926 576.3 930.3 579.8C934 582.7 937.7 589.6 941.4 596.3C945.7 604.2 950 614.8 954.3 625.8C959.8 639.9 965.3 658.2 970.8 673.6C977 690.8 983.1 709.1 989.2 723.3C994.1 734.6 999 744.9 1003.9 752.7C1008.9 760.6 1013.8 763.4 1018.7 771.1C1023.6 778.8 1028.5 791.2 1033.4 798.7C1038.3 806.2 1043.2 812.1 1048.1 817.1C1053 822.2 1057.9 826.1 1062.8 830C1067.7 834 1072.6 838.3 1077.5 841.1C1081.2 843.1 1084.9 844.9 1088.6 845.8C1091.7 846.6 1094.7 847.3 1097.8 847.3C1101.5 847.4 1105.2 846.8 1108.8 845.8C1113.1 844.8 1117.4 842.4 1121.7 839.2C1126 836 1130.3 830.9 1134.6 824.5C1139.5 817.2 1144.4 806.1 1149.3 795.1C1153.6 785.4 1157.9 775.1 1162.2 761.9C1165.9 750.6 1169.6 736.2 1173.2 721.5C1176.3 709.1 1179.4 696.2 1182.4 681C1185.5 665.8 1188.6 643.3 1191.6 629.4C1194.7 615.6 1197.8 604.4 1200.8 596.3C1203.9 588.3 1207 582 1210 577.9C1214.1 572.5 1218.1 567.9 1222.2 568C1225.5 568 1228.8 572.6 1232.1 577.9C1235.8 583.8 1239.5 595.4 1243.2 603.7C1247.5 613.3 1251.8 623.4 1256 631.3C1259.1 636.9 1262.2 642 1265.2 646C1270.8 653.1 1276.3 653 1281.8 660.7C1286.1 666.8 1290.4 676.9 1294.7 684.6C1299.6 693.5 1304.5 702.6 1309.4 710.4C1313.7 717.2 1318 724.9 1322.3 728.8C1325.1 731.4 1327.9 733.2 1330.8 733.2C1333.5 733.2 1336.2 729.9 1338.9 725.1C1341.9 719.7 1345 708 1348.1 699.4C1351.1 690.8 1354.2 679.2 1357.3 673.6C1359.5 669.6 1361.7 666.6 1363.9 666.2C1366.3 665.9 1368.8 667.4 1371.2 671.8C1373.9 676.6 1376.6 688.9 1379.3 699.4C1382.4 711.3 1385.5 727.6 1388.5 739.9C1391.6 752.1 1394.7 764.8 1397.7 773C1403.7 788.9 1409.8 798.8 1415.8 804.3C1418.5 806.7 1421.2 808.9 1423.9 809C1426.7 809.1 1429.5 806.8 1432.3 802.4C1435.4 797.6 1438.5 785.9 1441.5 776.7C1444.6 767.5 1447.7 754.2 1450.7 747.2C1452.6 743 1454.4 739.7 1456.2 738C1457.7 736.7 1459.2 736.1 1460.7 736.2C1462.3 736.2 1463.9 738.3 1465.4 741.7C1467.9 746.9 1470.4 760.1 1472.8 769.3C1475.3 778.5 1477.7 790 1480.2 796.9C1482.3 802.8 1484.3 807.4 1486.4 809.8C1488.3 811.9 1490.1 812.8 1491.9 812.7C1494.2 812.7 1496.4 809.6 1498.6 804.3C1501 798.3 1503.5 784.3 1505.9 773C1508.4 761.6 1510.8 745.6 1513.3 736.2C1515.1 729.1 1517 722.8 1518.8 719.6C1520.7 716.4 1522.5 714.3 1524.3 714.1C1526.2 713.9 1528 715.6 1529.9 719.6C1531.9 724.2 1534 736.3 1536.1 747.2C1538.3 758.7 1540.5 776 1542.7 787.7C1545.2 800.7 1547.6 813.1 1550.1 820.8C1552.5 828.5 1555 833.9 1557.5 837.4C1559.9 840.9 1562.4 843.4 1564.8 844.7C1567.3 846.1 1569.7 846.7 1572.2 846.6C1574.6 846.5 1577.1 844.1 1579.5 841.1C1582.6 837.2 1585.7 829 1588.7 820.8C1591.8 812.6 1594.9 800.6 1597.9 791.4C1601 782.2 1604.1 771.3 1607.1 765.6C1609.6 761.1 1612 758 1614.5 756.4C1616.3 755.2 1618.2 754.6 1620 754.6C1622.1 754.6 1624.2 756.5 1626.3 760.1C1628.5 763.9 1630.7 773 1632.9 780.3C1636 790.5 1639 804 1642.1 813.5C1645.2 822.9 1648.2 831.2 1651.3 837.4C1654.4 843.6 1657.4 849 1660.5 852.1C1664.2 855.9 1667.9 857.7 1671.5 859.5C1675.2 861.2 1678.9 860.9 1682.6 863.1C1685.7 865 1688.7 868.4 1691.8 872.3C1695.5 877.1 1699.1 884.6 1702.8 890.7C1706.5 896.9 1710.2 904 1713.9 909.1C1717.5 914.3 1721.2 918.4 1724.9 922C1729.2 926.3 1733.5 930.6 1737.8 933.1C1742.7 935.9 1747.6 937.8 1752.5 938.6C1758 939.5 1763.6 939.7 1769.1 939.7C1774 939.7 1778.9 939.2 1783.8 937.9C1788.1 936.7 1792.4 934.1 1796.7 931.2C1800.4 928.8 1804 924.6 1807.7 922C1810.2 920.3 1812.6 918.3 1815.1 917.6C1816.9 917.1 1818.8 917.1 1820.6 917.2C1823.1 917.5 1825.5 919.6 1828 922C1831 925 1834.1 930.7 1837.2 934.9C1840.8 939.9 1844.5 945.7 1848.2 949.6C1851.9 953.6 1855.6 957 1859.2 958.8C1863.5 961 1867.8 962.4 1872.1 962.5C1878.3 962.6 1884.4 962.5 1890.5 961.8C1896.7 961 1902.8 959.4 1908.9 957.7C1914.4 956.2 1920 954.6 1925.5 951.5C1929.8 949.1 1934.1 945.2 1938.4 940.4C1942.1 936.3 1945.7 931.1 1949.4 923.9C1953.1 916.6 1956.8 906 1960.5 894.4C1963.5 884.8 1966.6 872.3 1969.7 861.3C1972.7 850.3 1975.8 837.4 1978.9 828.2C1981.3 820.8 1983.8 813.9 1986.2 809.8C1988.7 805.7 1991.1 802.7 1993.6 801.3C1995.4 800.3 1997.3 799.7 1999.1 799.8C2001.2 800 2003.3 801.9 2005.4 804.3C2007.6 806.8 2009.8 811.5 2012 815.3C2013.8 818.4 2015.7 821.6 2017.5 824.9" fill="none" stroke="#800000" stroke-width="11" stroke-linecap="round" stroke-linejoin="round"/><path d="M179.9 665.4C182.7 667.4 185.5 669.3 188.3 670.6C191 671.8 193.7 672.6 196.4 672.8C199.2 672.9 202.1 670.6 204.9 666.1C208 661.3 211 648.8 214.1 640.4C217.8 630.3 221.5 618.5 225.1 610.9C227.8 605.4 230.5 600.7 233.2 598.1C235.2 596.1 237.2 594.3 239.1 594.4C241.2 594.4 243.3 597.1 245.4 599.9C248.4 604 251.5 613.2 254.6 618.3C257.6 623.4 260.7 628.7 263.8 631.2C268.1 634.6 272.4 635.4 276.7 636.7C281.6 638.2 286.5 637.1 291.4 639.6C294.4 641.2 297.5 645.3 300.6 647.7C303.6 650.2 306.7 653.2 309.8 654.4C313.5 655.8 317.1 656.2 320.8 656.2C326.3 656.3 331.9 654.1 337.4 654.4C339.8 654.5 342.3 657.2 344.7 658.8C347.8 660.8 350.9 664.8 353.9 665.4C357 666 360.1 664.1 363.1 664.7C366.2 665.2 369.3 670.1 372.3 671.7C376 673.6 379.7 675.4 383.4 675.3C388.3 675.3 393.2 674.4 398.1 673.5C403 672.6 407.9 671.7 412.8 669.8C417.7 668 422.6 662.6 427.5 661.4C432.5 660.2 437.4 659.8 442.3 659.9C450.9 660 459.4 660.5 468 660.6C473.6 660.7 479.1 660.6 484.6 660.6C488.3 660.6 492 658.7 495.6 655.8C498.7 653.4 501.8 649.3 504.8 642.2C507.9 635.1 511 621.1 514 610.9C516.5 602.8 518.9 591.9 521.4 587C523.2 583.3 525.1 580.9 526.9 580.8C528.8 580.6 530.6 582.8 532.4 587C534.9 592.7 537.3 608.9 539.8 618.3C542.3 627.7 544.7 637.5 547.2 644.1C549.6 650.6 552.1 656.3 554.5 658.8C557 661.2 559.4 662.5 561.9 662.5C566.2 662.4 570.5 658.3 574.8 658.8C577.2 659.1 579.7 662.4 582.1 664.3C585.8 667.2 589.5 671.8 593.2 673.5C596.8 675.2 600.5 675.7 604.2 675.3C609.1 674.8 614 671.2 618.9 669.8C625.1 668.1 631.2 669.8 637.3 668C639.8 667.2 642.2 662.6 644.7 658.8C647.8 654 650.8 644.8 653.9 640.4C656.7 636.3 659.5 632.5 662.4 632.3C664.4 632.1 666.5 634 668.6 636.7C671.1 639.9 673.5 647.2 676 651.4C678.4 655.7 680.9 661.1 683.3 662.5C685.2 663.5 687 663.7 688.9 663.6C693.1 663.2 697.4 658.6 701.7 658.8C704.8 658.9 707.9 662.9 710.9 664.3C714.6 666 718.3 668 722 668C725.6 667.9 729.2 665.2 732.8 663.2C738.7 659.9 744.5 654.8 750.4 650.6C759.3 644.3 768.1 638.8 777 631.8C782.5 627.4 788 622.7 793.5 617C798.3 612.1 803.1 606.3 807.9 599.5C811.9 593.7 815.9 586.7 819.9 579.5C823.3 573.4 826.7 567 830.1 559.5C832.8 553.5 835.5 546.6 838.2 539.6C840.7 533.3 843.2 526.7 845.6 519.6C847.8 513.3 850 506.2 852.2 499.7C854.5 492.9 856.7 486.3 859 479.7C861.3 473 863.6 466.3 866 459.7C868.4 453 870.8 446.2 873.2 439.8C875.8 432.9 878.4 426 880.9 419.8C884 412.6 887.1 406.2 890.1 399.9C891.8 396.4 893.5 393.2 895.1 389.9C896.2 387.8 897.2 385.3 898.3 383.5C900.7 379.5 903.1 376.6 905.5 374.7C908.9 372.1 912.3 370.3 915.7 370.3C918.7 370.4 921.8 372.3 924.9 374.7C927.4 376.7 929.9 380 932.4 383.5C933.8 385.3 935.1 387.4 936.4 389.9C937.9 392.7 939.4 396.2 940.8 399.9C943.2 405.8 945.6 413.2 948 419.8C950.4 426.5 952.8 432.9 955.2 439.8C957.5 446.3 959.7 453.4 962 459.7C964.5 466.8 967 473.2 969.6 479.7C972.2 486.5 974.9 493.2 977.5 499.7C980.3 506.5 983.1 514 985.9 519.6C989.9 527.7 993.9 533.7 997.9 539.6C1003.1 547.3 1008.3 550.5 1013.5 559.5C1016.6 565 1019.7 572.9 1022.8 579.5C1026 586.2 1029.2 593.7 1032.4 599.5C1036.8 607.3 1041.1 613.2 1045.4 619.4C1050.4 626.5 1055.4 633.3 1060.4 639.4C1066.4 646.7 1072.3 654.9 1078.3 659.3C1085.1 664.4 1091.9 666.9 1098.7 669.3C1103.9 671.2 1109.1 673.3 1114.3 673.7C1119.2 674 1124.2 672.9 1129.2 670.3C1132.2 668.8 1135.2 666.4 1138.2 660.3C1138.8 659 1139.5 656.6 1140.1 655.1C1145 643.3 1149.9 639.7 1154.8 629.3C1159.7 618.9 1164.7 606.3 1169.6 592.5C1173.9 580.5 1178.1 567.5 1182.4 552.1C1185.5 541.1 1188.6 526.9 1191.6 515.2C1194.7 503.6 1197.8 491.2 1200.8 482.1C1203.9 473.1 1207 465.2 1210 460C1212.5 456 1214.9 452.6 1217.4 450.8C1218.6 450 1219.9 449.1 1221.1 449C1222.9 448.9 1224.8 450.1 1226.6 451.9C1229.1 454.5 1231.5 460.6 1234 467.4C1236.4 474.2 1238.9 484.9 1241.3 493.2C1244.4 503.5 1247.5 515 1250.5 522.6C1254.2 531.7 1257.9 537.7 1261.6 542.8C1268.9 553.1 1276.3 555.9 1283.6 564.9C1288.6 570.9 1293.5 579.1 1298.4 585.2C1304.5 592.8 1310.6 598.3 1316.8 605.4C1319.8 609 1322.9 614.3 1326 616.5C1327.8 617.8 1329.7 618.3 1331.5 618.3C1333.9 618.2 1336.4 616 1338.9 612.8C1341.9 608.7 1345 598.1 1348.1 592.5C1351.1 586.9 1354.2 581.1 1357.3 578.5C1359.1 577 1360.9 576 1362.8 576C1365.2 575.9 1367.7 577.5 1370.1 580.8C1373.2 584.8 1376.3 595.3 1379.3 603.6C1382.5 612.2 1385.7 622.5 1388.9 631.3C1391.9 639.4 1394.9 648.4 1397.9 654.5C1400.9 660.6 1403.9 665.3 1406.8 668.8C1409.8 672.3 1412.8 675.5 1415.8 676.9C1417.9 677.9 1420 678.5 1422.1 678.5C1424.1 678.5 1426.2 677.8 1428.3 676C1430.1 674.5 1431.9 670.9 1433.7 667.1C1435.5 663.2 1437.3 657.5 1439.1 652.7C1440.8 648 1442.6 642.9 1444.4 638.4C1446.2 633.9 1448 628.8 1449.8 625.9C1451.6 623 1453.4 621 1455.2 620C1456.6 619.1 1458.1 618.6 1459.6 618.6C1461.1 618.5 1462.6 619.3 1464.1 620.5C1465.9 622 1467.7 625.7 1469.5 629.5C1471.3 633.3 1473.1 639.7 1474.8 643.8C1476.6 647.9 1478.4 651.9 1480.2 654.5C1482 657.1 1483.8 659.1 1485.6 660.3C1486.9 661.1 1488.2 661.8 1489.5 661.9C1491.2 661.9 1492.9 660.9 1494.5 659.5C1496.3 658 1498.1 655.1 1499.9 650.9C1501.7 646.8 1503.5 639.6 1505.3 633.1C1507.1 626.5 1508.8 618.1 1510.6 611.6C1512.4 605 1514.2 597.9 1516 593.7C1517.5 590.2 1519 587.3 1520.5 586.2C1522.1 584.9 1523.7 584.5 1525.3 584.6C1527 584.6 1528.6 585.3 1530.3 586.9C1532.1 588.6 1533.9 592.6 1535.7 597.3C1537.5 601.9 1539.3 609.2 1541.1 615.2C1542.8 621.1 1544.6 627.7 1546.4 633.1C1548.2 638.4 1550 643.7 1551.8 647.4C1554.2 652.2 1556.6 655.6 1558.9 658.1C1561.9 661.2 1564.9 663.6 1567.9 664.7C1570 665.5 1572.1 666 1574.2 666C1576.2 666 1578.3 665.1 1580.4 663.5C1582.8 661.6 1585.2 657.2 1587.6 652.7C1590 648.3 1592.4 642 1594.7 636.6C1597.1 631.3 1599.5 624.8 1601.9 620.5C1604.3 616.3 1606.7 612.6 1609.1 610.7C1611.7 608.5 1614.4 607 1617.1 606.9C1619.2 606.8 1621.3 607.5 1623.4 608.9C1625.8 610.5 1628.1 614.5 1630.5 618.7C1632.9 623 1635.3 629.5 1637.7 634.8C1640.1 640.2 1642.5 646.2 1644.8 650.9C1647.2 655.7 1649.6 660 1652 663.5C1654.4 667 1656.8 670.6 1659.2 672.4C1660.9 673.8 1662.7 675 1664.5 674.9C1666.3 674.8 1668.1 673.6 1669.9 672.4C1672.3 670.8 1674.7 668.2 1677.1 666.2C1679.4 664.1 1681.8 661.3 1684.2 659.9C1686.6 658.5 1689 657.3 1691.4 657.2C1693.8 657.2 1696.1 657.3 1698.5 657.7C1701.5 658.3 1704.5 659.5 1707.5 660.3C1709.9 660.8 1712.2 661.4 1714.6 661.9C1715.6 662.1 1716.6 662.4 1717.5 662.5C1721.2 662.6 1724.9 662.1 1728.6 661.4C1731.3 660.8 1734 658.8 1736.7 658.8C1739.5 658.8 1742.3 661.2 1745.2 661.4C1754.4 661.9 1763.6 661.9 1772.8 661.4C1777.7 661.1 1782.6 659.1 1787.5 656.9C1792.4 654.7 1797.3 650.7 1802.2 647.7C1805.9 645.5 1809.6 642.5 1813.2 641.1C1815.7 640.2 1818.1 639.6 1820.6 639.6C1823.1 639.7 1825.5 640.7 1828 642.2C1831.6 644.4 1835.3 649.6 1839 653.3C1843.3 657.6 1847.6 663 1851.9 666.1C1855.6 668.8 1859.2 671.6 1862.9 671.7C1867.2 671.8 1871.5 671.8 1875.8 671.7C1879.5 671.5 1883.2 670.5 1886.8 670.6C1890.5 670.6 1894.2 672 1897.9 672.4C1901.6 672.8 1905.2 672.8 1908.9 672.8C1912.6 672.7 1916.3 671.3 1920 669.8C1923.6 668.3 1927.3 665.6 1931 662.5C1934.7 659.3 1938.4 655.3 1942.1 649.6C1945.7 643.8 1949.4 635.1 1953.1 625.7C1956.8 616.2 1960.5 603.6 1964.1 592.5C1967.8 581.5 1971.5 567.5 1975.2 559.4C1978.2 552.6 1981.3 547.7 1984.4 544.7C1988.1 541 1991.7 537.9 1995.4 538.1C1998.5 538.2 2001.5 540.5 2004.6 542.8C2007.1 544.7 2009.5 547.2 2012 550.2C2013.8 552.5 2015.7 555.3 2017.5 558.3" fill="none" stroke="#0000ff" stroke-width="11" stroke-linecap="round" stroke-linejoin="round"/><path d="M179.9 401.2C193.7 401.8 207.6 402.3 221.5 402.3C230 402.2 238.6 401.7 247.2 401.2C258.3 400.5 269.3 400.1 280.3 397.5C283.4 396.8 286.5 394.7 289.5 390.1C292 386.4 294.4 376.7 296.9 371.7C300 365.5 303 357.4 306.1 357.7C309.2 358 312.2 366.2 315.3 371.7C317.1 375 318.9 380.8 320.8 382.8C322.8 385 324.8 385.9 326.8 385.8C328.3 385.7 329.8 385.3 331.3 384.8C333 384.3 334.7 383.7 336.4 382.5C338.1 381.3 339.7 379.3 341.4 375.7C343.1 372.2 344.8 365.8 346.5 357.3C349 344.7 351.5 315.6 353.9 301.8C356.4 288.2 358.9 273.7 361.3 274.2C363.8 274.6 366.2 291.4 368.7 305.5C370.9 318.1 373.1 342.7 375.3 353.3C378 366.3 380.7 372.9 383.4 377.2C387.1 383.2 390.7 385.3 394.4 387.2C401.8 390.9 409.1 391.6 416.5 393.1C426.3 395 436.1 397.3 446 397.5C459.4 397.8 472.9 397 486.4 395.6C492.6 395 498.7 394.7 504.8 392C509.7 389.8 514.7 382.9 519.6 375.4C524.5 367.9 529.4 355.3 534.3 346C538 338.9 541.6 330.1 545.3 325.7C547.5 323.1 549.7 320.9 551.9 320.9C554.6 321 557.3 325.1 560 329.4C563.7 335.2 567.4 347.9 571.1 355.2C574.8 362.4 578.4 369.7 582.1 373.6C587 378.7 591.9 381.4 596.8 382.8C601.8 384.1 606.7 384.7 611.6 384.6C617.7 384.5 623.8 383.4 630 382C634.3 381.1 638.6 380.5 642.8 377.2C645.9 374.9 649 369.8 652.1 364.4C655.1 358.9 658.2 348.7 661.3 344.1C663.3 341 665.4 337.6 667.5 337.9C670.9 338.3 674.4 343.7 677.8 345.2C681.5 346.9 685.2 345.8 688.9 347.8C692.5 349.8 696.2 354.1 699.9 357C704.8 360.9 709.7 367.5 714.6 368C724.4 369 734.2 369.3 744.1 369.1C758.8 368.9 773.5 368.5 788.2 367.7C790.2 367.6 792.2 367.4 794.2 367.3C810.1 366.3 826.1 365.4 842 364.4C854.3 363.5 866.5 362.9 878.8 361.4C886.2 360.5 893.5 359.3 900.9 357C905.8 355.5 910.7 353.3 915.6 349.6C919.3 346.9 923 343.4 926.7 336.8C929.7 331.2 932.8 320.5 935.9 312.8C938.9 305.2 942 295.9 945.1 290.7C948.1 285.6 951.2 281.8 954.3 280.4C957.3 279.1 960.4 278.7 963.5 279C965.9 279.2 968.4 280.9 970.8 283.4C973.9 286.4 977 293.9 980 298.1C983.1 302.4 986.2 307 989.2 309.1C992.3 311.3 995.4 312.5 998.4 312.8C1001.5 313.1 1004.6 312.6 1007.6 311C1010.1 309.7 1012.5 302.7 1015 296.3C1018.1 288.2 1021.1 275.1 1024.2 265C1027.3 254.9 1030.3 244.5 1033.4 235.5C1037.1 224.8 1040.7 216.1 1044.4 206.1C1050.6 189.4 1056.7 172.3 1062.8 154.6C1069 136.8 1075.1 119.1 1081.2 99.4C1085.5 85.5 1089.8 67.6 1094.1 55.2C1096.6 48.1 1099 41.1 1101.5 36.8C1103.9 32.5 1106.4 29 1108.8 27.6C1110.4 26.7 1112 26.4 1113.6 26.5C1115.7 26.6 1117.8 28.2 1119.9 30.2C1122.9 33.1 1126 39.6 1129.1 46C1132.8 53.7 1136.4 64.4 1140.1 73.6C1145 85.9 1149.9 98.1 1154.8 110.4C1159.7 122.7 1164.7 134.6 1169.6 147.2C1170.7 150.2 1171.9 153.5 1173 156.3C1177.2 166.3 1181.4 174.4 1185.6 181.5C1188.2 185.8 1190.7 190.2 1193.2 192.9C1195.9 195.7 1198.6 197.8 1201.3 198.2C1203.2 198.4 1205.1 197.3 1207.1 192.9C1208.3 190 1209.6 181.7 1210.8 176.5C1212.1 171.2 1213.4 165.5 1214.6 161.3C1215.9 157.2 1217.1 153.2 1218.4 151.3C1220.3 148.4 1222.1 147.7 1223.9 147.7C1225.9 147.8 1227.8 149.2 1229.7 153.8C1231 156.8 1232.3 164.2 1233.5 168.9C1235.2 175.2 1236.9 181.4 1238.6 186.6C1241.1 194.3 1243.6 201.2 1246.1 206.7C1248.7 212.3 1251.2 217.3 1253.7 220.6C1256.2 223.9 1258.7 225.8 1261.3 228.2C1269.7 236 1278.1 242.2 1286.5 249.6C1294.9 256.9 1303.3 264.7 1311.7 272.3C1320.1 279.8 1328.5 288 1336.9 295C1345.3 301.9 1353.7 307.8 1362.1 313.9C1366.3 316.9 1370.5 320.2 1374.7 322.7C1378.9 325.2 1383.1 327 1387.3 329C1393.2 331.7 1399.1 334.3 1405 336.6C1411.7 339.1 1418.4 341.3 1425.1 343.4C1433.5 346 1441.9 348.8 1450.3 350.4C1456.2 351.6 1462.1 352.7 1468 352.9C1471.3 353.1 1474.7 352.9 1478.1 352.4C1481.4 352 1484.8 350.5 1488.2 347.9C1490.7 346 1493.2 343 1495.7 337.8C1497.9 333.3 1500.1 325.7 1502.3 316.5C1504.1 308.8 1505.9 298.1 1507.8 287.1C1509.6 276.1 1511.5 261.3 1513.3 250.3C1514.9 240.7 1516.5 230.8 1518.1 224.5C1519.3 219.7 1520.5 215.6 1521.8 213.5C1522.9 211.6 1524 210.3 1525.1 210.5C1526.4 210.8 1527.8 214.2 1529.1 217.1C1531.2 221.7 1533.3 229.9 1535.4 235.5C1537.8 242.2 1540.3 250 1542.7 253.9C1545.2 257.9 1547.6 261.1 1550.1 261.3C1551.9 261.5 1553.8 261.4 1555.6 260.6C1558.1 259.4 1560.5 255.9 1563 254.7C1565.4 253.4 1567.9 253.1 1570.3 253.2C1572.8 253.3 1575.2 256.2 1577.7 259.5C1580.8 263.5 1583.8 272.4 1586.9 277.9C1590 283.4 1593 289.3 1596.1 292.6C1601 297.8 1605.9 298.1 1610.8 301.8C1614.5 304.6 1618.2 308.4 1621.9 311C1625.5 313.6 1629.2 314.7 1632.9 317.2C1637.8 320.6 1642.7 326 1647.6 329.4C1652.5 332.8 1657.4 335.6 1662.3 337.9C1669.7 341.2 1677.1 343.6 1684.4 346C1693 348.7 1701.6 351.2 1710.2 353.3C1717.5 355.1 1724.9 357.2 1732.3 358.1C1742.1 359.3 1751.9 359.9 1761.7 359.9C1772.8 360 1783.8 360 1794.8 359.9C1803.4 359.9 1812 359.5 1820.6 358.1C1824.3 357.5 1828 355.7 1831.6 354C1835.3 352.4 1839 349.5 1842.7 347.8C1846.4 346 1850 346.6 1853.7 344.1C1856.2 342.5 1858.6 339.9 1861.1 334.9C1863.5 329.9 1866 319.8 1868.4 309.1C1870.9 298.5 1873.4 284.4 1875.8 268.7C1877.6 256.8 1879.5 239.3 1881.3 228.2C1882.9 218.5 1884.5 208.9 1886.1 204.3C1887.6 199.9 1889.1 196.9 1890.5 196.9C1892 196.9 1893.5 199.7 1894.9 204.3C1896.5 209.2 1898.1 219.9 1899.7 228.2C1901.6 237.7 1903.4 249.7 1905.2 257.6C1907.7 268.1 1910.2 275.9 1912.6 281.5C1915.1 287.2 1917.5 291.4 1920 294.4C1924.9 300.5 1929.8 303 1934.7 307.3C1939.6 311.6 1944.5 317 1949.4 320.2C1955.5 324.1 1961.7 326.4 1967.8 328.3C1975.2 330.5 1982.5 331.1 1989.9 333.1C1999.1 335.6 2008.3 338.8 2017.5 342.3" fill="none" stroke="#000000" stroke-width="11" stroke-linecap="round" stroke-linejoin="round"/></g>
<g id="arrows"><rect x="1109" y="173" width="11" height="193.5" fill="#000"/><polygon points="1088,174 1141,174 1114.5,143" fill="#000"/><rect x="1375.7" y="366.0" width="11" height="148.4" fill="#ff0000"/><polygon points="1354.7,513.4 1407.7,513.4 1381.2,544.5" fill="#ff0000"/><rect x="1465.1" y="385.4" width="11" height="146.6" fill="#ff0000"/><polygon points="1444.1,531.0 1497.1,531.0 1470.6,563.0" fill="#ff0000"/><rect x="1553.5" y="372.5" width="11" height="147.5" fill="#ff0000"/><polygon points="1532.5,519.0 1585.5,519.0 1559.0,551.0" fill="#ff0000"/><rect x="1613.1" y="414.0" width="11" height="148.0" fill="#ff0000"/><polygon points="1592.1,561.0 1645.1,561.0 1618.6,592.6" fill="#ff0000"/></g>
<g id="axis"><line x1="179.5" y1="1894.5" x2="2017.5" y2="1894.5" stroke="#000" stroke-width="4"/><line x1="181.5" y1="1894.5" x2="181.5" y2="1909.5" stroke="#000" stroke-width="4"/><line x1="487.2" y1="1894.5" x2="487.2" y2="1909.5" stroke="#000" stroke-width="4"/><line x1="792.8" y1="1894.5" x2="792.8" y2="1909.5" stroke="#000" stroke-width="4"/><line x1="1098.5" y1="1894.5" x2="1098.5" y2="1909.5" stroke="#000" stroke-width="4"/><line x1="1404.2" y1="1894.5" x2="1404.2" y2="1909.5" stroke="#000" stroke-width="4"/><line x1="1709.8" y1="1894.5" x2="1709.8" y2="1909.5" stroke="#000" stroke-width="4"/><line x1="2015.5" y1="1894.5" x2="2015.5" y2="1909.5" stroke="#000" stroke-width="4"/><line x1="334.3" y1="1894.5" x2="334.3" y2="1902.5" stroke="#000" stroke-width="3"/><line x1="640.0" y1="1894.5" x2="640.0" y2="1902.5" stroke="#000" stroke-width="3"/><line x1="945.7" y1="1894.5" x2="945.7" y2="1902.5" stroke="#000" stroke-width="3"/><line x1="1251.3" y1="1894.5" x2="1251.3" y2="1902.5" stroke="#000" stroke-width="3"/><line x1="1557.0" y1="1894.5" x2="1557.0" y2="1902.5" stroke="#000" stroke-width="3"/><line x1="1862.7" y1="1894.5" x2="1862.7" y2="1902.5" stroke="#000" stroke-width="3"/></g>
<g id="text"><text transform="translate(183.0,1980.5) scale(0.953,1)" font-size="82" text-anchor="middle" font-family="'Liberation Sans', sans-serif">1400</text><text transform="translate(488.7,1980.5) scale(0.953,1)" font-size="82" text-anchor="middle" font-family="'Liberation Sans', sans-serif">1300</text><text transform="translate(794.3,1980.5) scale(0.953,1)" font-size="82" text-anchor="middle" font-family="'Liberation Sans', sans-serif">1200</text><text transform="translate(1100.0,1980.5) scale(0.953,1)" font-size="82" text-anchor="middle" font-family="'Liberation Sans', sans-serif">1100</text><text transform="translate(1405.7,1980.5) scale(0.953,1)" font-size="82" text-anchor="middle" font-family="'Liberation Sans', sans-serif">1000</text><text transform="translate(1711.3,1980.5) scale(0.953,1)" font-size="82" text-anchor="middle" font-family="'Liberation Sans', sans-serif">900</text><text transform="translate(2017.0,1980.5) scale(0.953,1)" font-size="82" text-anchor="middle" font-family="'Liberation Sans', sans-serif">800</text><text transform="translate(830,2116) scale(0.984,1)" font-size="80" font-family="'Liberation Sans', sans-serif">wavenumber (cm</text><text transform="translate(1435,2071.8) scale(0.953,1)" font-size="50" font-family="'Liberation Sans', sans-serif">-1</text><text transform="translate(1478.5,2116) scale(0.984,1)" font-size="80" font-family="'Liberation Sans', sans-serif">)</text><text transform="translate(70.5,1045.5) rotate(-90)" font-size="79.3" text-anchor="middle" font-family="'Liberation Sans', sans-serif">absorbance (a.u.)</text></g>
</svg>
</body></html>
